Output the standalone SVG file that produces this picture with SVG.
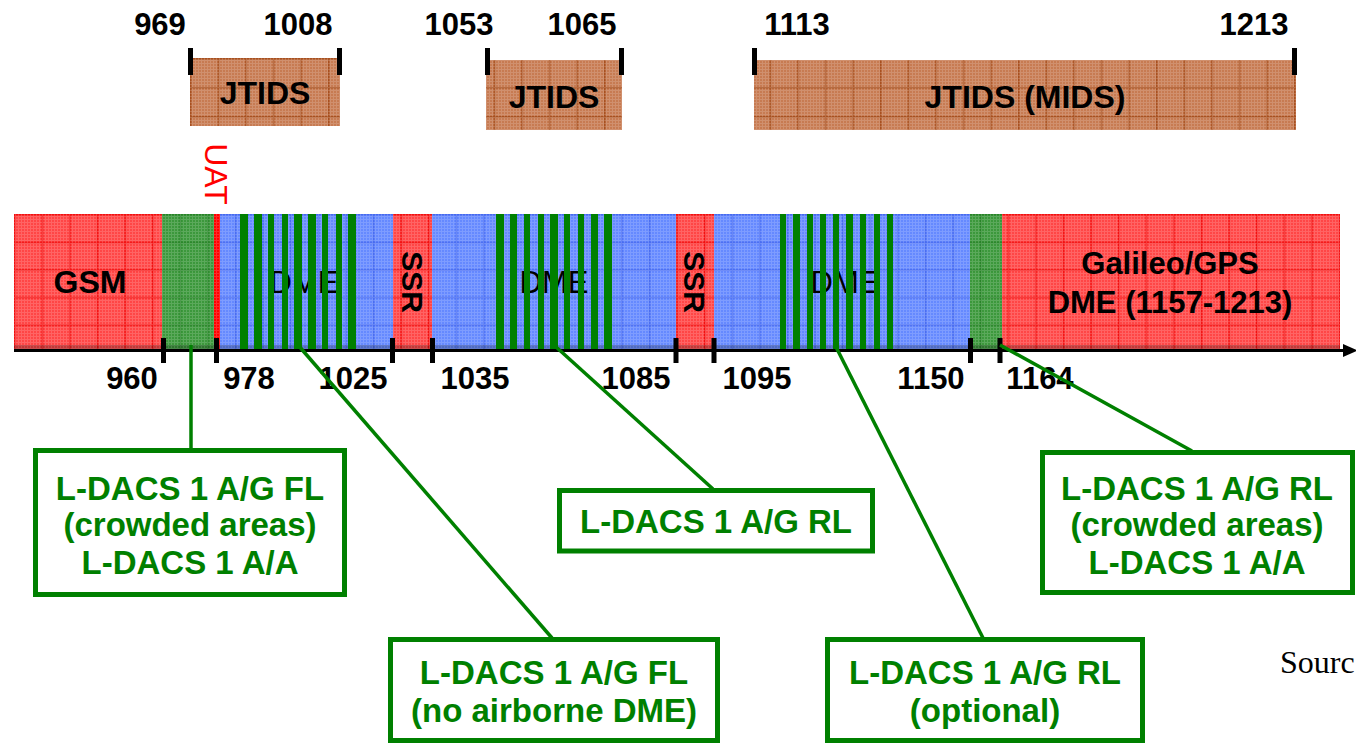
<svg xmlns="http://www.w3.org/2000/svg" width="1356" height="744" viewBox="0 0 1356 744">
<style>
.lbl{font-family:"Liberation Sans",Arial,sans-serif;font-weight:bold;font-size:31px;fill:#000;text-anchor:middle}
.band{font-family:"Liberation Sans",Arial,sans-serif;font-size:31px;fill:#000;text-anchor:middle}
.bold{font-weight:bold}
.gtxt{font-family:"Liberation Sans",Arial,sans-serif;font-weight:bold;font-size:33px;fill:#008000;text-anchor:middle}
.box{fill:#fff;stroke:#008000;stroke-width:5}
.con{stroke:#008000;stroke-width:3.5;fill:none}
.stripe{fill:#008000}
.tick{fill:#000}
</style>
<defs>
<pattern id="pRed" patternUnits="userSpaceOnUse" x="14" y="214" width="27.6" height="27.6">
<rect width="27.6" height="27.6" fill="#FF4646"/>
<path d="M0 0.75H27.6M0.75 0V27.6" stroke="#F21010" stroke-width="1.5"/>
</pattern>
<pattern id="pBlue" patternUnits="userSpaceOnUse" x="14" y="214" width="27.6" height="27.6">
<rect width="27.6" height="27.6" fill="#6589FF"/>
<path d="M0 0.75H27.6M0.75 0V27.6" stroke="#466AF0" stroke-width="1.5"/>
</pattern>
<pattern id="pGreen" patternUnits="userSpaceOnUse" x="14" y="214" width="27.6" height="27.6">
<rect width="27.6" height="27.6" fill="#3C983C"/>
<path d="M0 0.75H27.6M0.75 0V27.6" stroke="#288428" stroke-width="1.5"/>
</pattern>
<pattern id="pBrown" patternUnits="userSpaceOnUse" x="190" y="58" width="27.6" height="29">
<rect width="27.6" height="29" fill="#C77B52"/>
<path d="M0 0.75H27.6M0.75 0V29" stroke="#A8501F" stroke-width="1.5"/>
</pattern>
<pattern id="pFine" patternUnits="userSpaceOnUse" width="3" height="3">
<path d="M0 0.5H3M0.5 0V3" stroke="#fff" stroke-width="1" opacity="0.16"/>
</pattern>
</defs>
<rect width="1356" height="744" fill="#fff"/>

<g id="jtids-1">
<rect x="190" y="58" width="150" height="68" fill="url(#pBrown)"/>
<rect x="190" y="58" width="150" height="68" fill="url(#pFine)"/>
<rect class="tick" x="188" y="48" width="5" height="27"/>
<rect class="tick" x="337" y="48" width="5" height="27"/>
<text class="lbl" x="160" y="35">969</text>
<text class="lbl" x="298" y="35">1008</text>
<text class="band bold" x="265" y="104" style="font-size:32px">JTIDS</text>
</g>
<g id="jtids-2">
<rect x="486" y="60" width="136" height="70" fill="url(#pBrown)"/>
<rect x="486" y="60" width="136" height="70" fill="url(#pFine)"/>
<rect class="tick" x="485" y="48" width="5" height="27"/>
<rect class="tick" x="619" y="48" width="5" height="27"/>
<text class="lbl" x="459" y="35">1053</text>
<text class="lbl" x="582" y="35">1065</text>
<text class="band bold" x="554" y="108" style="font-size:32px">JTIDS</text>
</g>
<g id="jtids-mids">
<rect x="754" y="60" width="542" height="70" fill="url(#pBrown)"/>
<rect x="754" y="60" width="542" height="70" fill="url(#pFine)"/>
<rect class="tick" x="752" y="48" width="5" height="27"/>
<rect class="tick" x="1292" y="48" width="5" height="27"/>
<text class="lbl" x="797" y="35">1113</text>
<text class="lbl" x="1254" y="35">1213</text>
<text class="band bold" x="1025" y="108" style="font-size:32px">JTIDS (MIDS)</text>
</g>

<g id="uat">
<text transform="translate(216,174) rotate(90)" x="0" y="11" class="band" style="fill:#FF0000;font-size:32px">UAT</text>
</g>

<g id="band">
<rect x="14" y="214" width="148" height="135" fill="url(#pRed)"/>
<rect x="162" y="214" width="52" height="135" fill="url(#pGreen)"/>
<rect x="214" y="214" width="6" height="135" fill="#FF0000"/>
<rect x="220" y="214" width="173" height="135" fill="url(#pBlue)"/>
<rect x="393" y="214" width="39" height="135" fill="url(#pRed)"/>
<rect x="432" y="214" width="244" height="135" fill="url(#pBlue)"/>
<rect x="676" y="214" width="38" height="135" fill="url(#pRed)"/>
<rect x="714" y="214" width="256" height="135" fill="url(#pBlue)"/>
<rect x="970" y="214" width="32" height="135" fill="url(#pGreen)"/>
<rect x="1002" y="214" width="338" height="135" fill="url(#pRed)"/>
<rect x="14" y="214" width="1326" height="135" fill="url(#pFine)"/>
<rect x="14" y="345" width="1326" height="4" fill="#000" opacity="0.22"/>
</g>

<g id="gsm"><text class="band bold" x="90" y="293" style="font-size:32px">GSM</text></g>

<g id="dme-1">
<text class="band" x="304" y="293">DME</text>
<rect class="stripe" x="240" y="214" width="8" height="135"/>
<rect class="stripe" x="254" y="214" width="8" height="135"/>
<rect class="stripe" x="268" y="214" width="6" height="135"/>
<rect class="stripe" x="282" y="214" width="6" height="135"/>
<rect class="stripe" x="294" y="214" width="8" height="135"/>
<rect class="stripe" x="308" y="214" width="8" height="135"/>
<rect class="stripe" x="322" y="214" width="6" height="135"/>
<rect class="stripe" x="336" y="214" width="6" height="135"/>
<rect class="stripe" x="348" y="214" width="8" height="135"/>
</g>
<g id="ssr-1"><text transform="translate(413,282) rotate(90)" x="0" y="11" class="band bold" style="font-size:30px">SSR</text></g>
<g id="dme-2">
<text class="band" x="554" y="293">DME</text>
<rect class="stripe" x="496" y="214" width="8" height="135"/>
<rect class="stripe" x="510" y="214" width="7" height="135"/>
<rect class="stripe" x="524" y="214" width="6" height="135"/>
<rect class="stripe" x="538" y="214" width="6" height="135"/>
<rect class="stripe" x="550" y="214" width="8" height="135"/>
<rect class="stripe" x="564" y="214" width="6" height="135"/>
<rect class="stripe" x="578" y="214" width="6" height="135"/>
<rect class="stripe" x="591" y="214" width="7" height="135"/>
<rect class="stripe" x="604" y="214" width="8" height="135"/>
</g>
<g id="ssr-2"><text transform="translate(695,282) rotate(90)" x="0" y="11" class="band bold" style="font-size:30px">SSR</text></g>
<g id="dme-3">
<text class="band" x="845" y="293">DME</text>
<rect class="stripe" x="780" y="214" width="6" height="135"/>
<rect class="stripe" x="793" y="214" width="7" height="135"/>
<rect class="stripe" x="807" y="214" width="6" height="135"/>
<rect class="stripe" x="820" y="214" width="6" height="135"/>
<rect class="stripe" x="833" y="214" width="6" height="135"/>
<rect class="stripe" x="846" y="214" width="7" height="135"/>
<rect class="stripe" x="860" y="214" width="6" height="135"/>
<rect class="stripe" x="874" y="214" width="6" height="135"/>
<rect class="stripe" x="887" y="214" width="6" height="135"/>
</g>
<g id="galileo">
<text class="band bold" x="1170" y="274">Galileo/GPS</text>
<text class="band bold" x="1170" y="313">DME (1157-1213)</text>
</g>

<g id="axis">
<line x1="14" y1="350.5" x2="1346" y2="350.5" stroke="#000" stroke-width="3"/>
<polygon points="1343,344 1358,350.5 1343,357" fill="#000"/>
<rect class="tick" x="161" y="338" width="5" height="25"/>
<rect class="tick" x="214" y="338" width="5" height="25"/>
<rect class="tick" x="390" y="338" width="5" height="25"/>
<rect class="tick" x="430" y="338" width="5" height="25"/>
<rect class="tick" x="673.5" y="338" width="5" height="25"/>
<rect class="tick" x="711.5" y="338" width="5" height="25"/>
<rect class="tick" x="968" y="338" width="5" height="25"/>
<rect class="tick" x="997.5" y="338" width="5" height="25"/>
<text class="lbl" x="132" y="389">960</text>
<text class="lbl" x="249" y="389">978</text>
<text class="lbl" x="353" y="389">1025</text>
<text class="lbl" x="475" y="389">1035</text>
<text class="lbl" x="636" y="389">1085</text>
<text class="lbl" x="757" y="389">1095</text>
<text class="lbl" x="931" y="389">1150</text>
<text class="lbl" x="1040" y="389">1164</text>
</g>

<g id="connectors">
<line class="con" x1="191" y1="345" x2="191" y2="450"/>
<line class="con" x1="298" y1="345" x2="552" y2="638"/>
<line class="con" x1="555" y1="346" x2="713" y2="489"/>
<line class="con" x1="835" y1="345" x2="983" y2="638"/>
<line class="con" x1="1000" y1="345" x2="1192" y2="451"/>
</g>

<g id="box-fl-crowded">
<rect class="box" x="35.5" y="450.5" width="309" height="144"/>
<text class="gtxt" x="190" y="500">L-DACS 1 A/G FL</text>
<text class="gtxt" x="190" y="536">(crowded areas)</text>
<text class="gtxt" x="190" y="574">L-DACS 1 A/A</text>
</g>
<g id="box-fl-noairborne">
<rect class="box" x="390.5" y="639.5" width="327" height="101"/>
<text class="gtxt" x="554" y="684">L-DACS 1 A/G FL</text>
<text class="gtxt" x="554" y="722">(no airborne DME)</text>
</g>
<g id="box-rl">
<rect class="box" x="559.5" y="490.5" width="313" height="60.5"/>
<text class="gtxt" x="716" y="533">L-DACS 1 A/G RL</text>
</g>
<g id="box-rl-optional">
<rect class="box" x="827.5" y="639.5" width="315" height="101"/>
<text class="gtxt" x="985" y="684">L-DACS 1 A/G RL</text>
<text class="gtxt" x="985" y="722">(optional)</text>
</g>
<g id="box-rl-crowded">
<rect class="box" x="1042.5" y="452.5" width="310" height="140"/>
<text class="gtxt" x="1197" y="500">L-DACS 1 A/G RL</text>
<text class="gtxt" x="1197" y="536">(crowded areas)</text>
<text class="gtxt" x="1197" y="574">L-DACS 1 A/A</text>
</g>

<text x="1280" y="673" style="font-family:'Liberation Serif','Times New Roman',serif;font-size:32px;fill:#000">Sourc</text>
</svg>
